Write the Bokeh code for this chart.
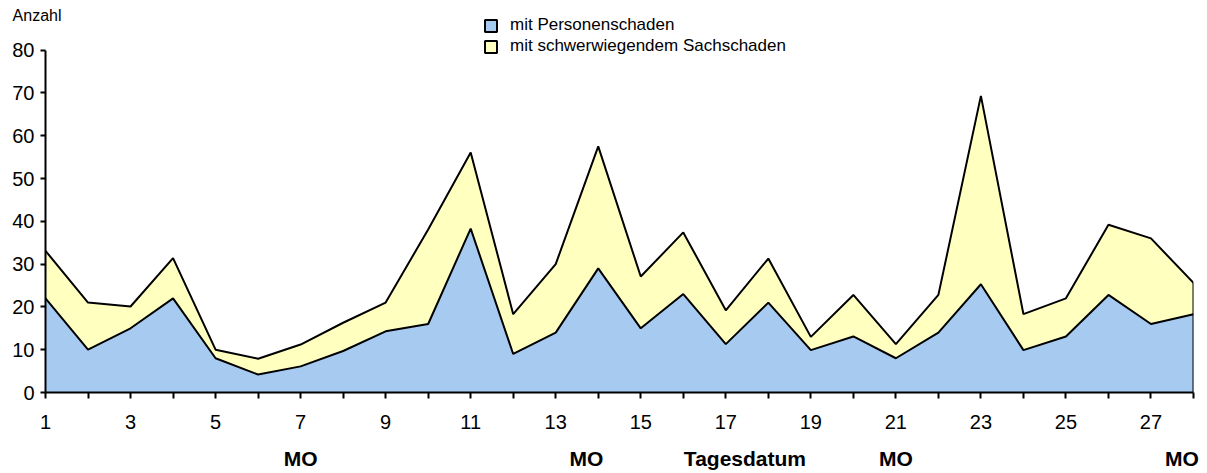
from bokeh.plotting import figure
from bokeh.models import (ColumnDataSource, Range1d, FixedTicker, Legend, LegendItem, LinearAxis)
from bokeh.transform import stack
from bokeh.embed import file_html
from bokeh.resources import INLINE

# ---- data ----
days = [1, 2, 3, 4, 5, 6, 7, 8, 9, 10, 11, 12, 13, 14,
        15, 16, 17, 18, 19, 20, 21, 22, 23, 24, 25, 26, 27, 28]
personen = [22, 10, 15, 22, 8, 4.2, 6.1, 9.7, 14.3, 16, 38.3, 9, 14, 29,
            15, 23, 11.3, 21, 9.9, 13.1, 8, 14, 25.3, 9.9, 13.1, 22.8, 16, 18.3]
sach = [11.1, 11, 5.1, 9.4, 2, 3.7, 5.1, 6.6, 6.7, 22.1, 17.8, 9.3, 16, 28.5,
        12.1, 14.4, 7.9, 10.3, 3.1, 9.7, 3.3, 8.8, 44, 8.4, 8.9, 16.4, 20, 7.3]
tick_labels = ["1", "", "3", "", "5", "", "7", "", "9", "", "11", "", "13", "",
               "15", "", "17", "", "19", "", "21", "", "23", "", "25", "", "27", ""]
y_ticks = [0, 10, 20, 30, 40, 50, 60, 70, 80]
y_unit_label = "Anzahl"
# second row under the day axis: Mondays and the axis title (positions in days)
row2_pos = [7, 13.72, 17.45, 21, 27.73]
row2_text = ["MO", "MO", "Tagesdatum", "MO", "MO"]
series_names = ["mit Personenschaden", "mit schwerwiegendem Sachschaden"]
colors = ["#A6CAF0", "#FFFFC0"]

# ---- geometry ----
FRAME_W, FRAME_H = 1148, 392          # frame reaches the top of the canvas
PX_PER_UNIT = 342.4 / 80              # 0..80 spans 342 px
Y_TOP = FRAME_H / PX_PER_UNIT

src = ColumnDataSource(dict(day=days, personen=personen, sach=sach))

p = figure(output_backend="svg", toolbar_location=None,
           frame_width=FRAME_W, frame_height=FRAME_H,
           min_border_left=45, min_border_right=12, min_border_top=0, min_border_bottom=81,
           x_range=Range1d(days[0], days[-1]), y_range=Range1d(0, Y_TOP),
           background_fill_color="white", border_fill_color="white")
p.outline_line_color = None
p.grid.visible = False

p.varea_stack(["personen", "sach"], x="day", source=src, fill_color=colors)
p.line(x="day", y="personen", source=src, line_color="black", line_width=2)
p.line(x="day", y=stack("personen", "sach"), source=src, line_color="black", line_width=2)
p.segment(x0=[days[-1]], y0=[0], x1=[days[-1]], y1=[personen[-1] + sach[-1]],
          line_color="black", line_width=2)

font = "Liberation Sans"
ax = p.xaxis[0]
ax.ticker = FixedTicker(ticks=days)
ax.major_label_overrides = {d: t for d, t in zip(days, tick_labels)}
ax.major_tick_out = 6
ax.major_tick_in = 0
ax.minor_tick_out = 0
ax.minor_tick_in = 0
ax.axis_line_width = 2
ax.major_tick_line_width = 2
ax.major_label_text_font = font
ax.major_label_text_font_size = "20px"
ax.major_label_text_color = "black"
ax.major_label_standoff = 16

ay = p.yaxis[0]
ay.ticker = FixedTicker(ticks=y_ticks)
ay.bounds = (y_ticks[0], y_ticks[-1])
ay.major_tick_out = 5
ay.major_tick_in = 0
ay.minor_tick_out = 0
ay.minor_tick_in = 0
ay.axis_line_width = 2
ay.major_tick_line_width = 2
ay.major_label_text_font = font
ay.major_label_text_font_size = "20px"
ay.major_label_text_color = "black"
ay.major_label_standoff = 6

# "Anzahl" unit label at the top of the value axis
ay2 = LinearAxis(ticker=FixedTicker(ticks=[88]), major_label_overrides={88: y_unit_label},
                 axis_line_color=None, major_tick_line_color=None, minor_tick_line_color=None,
                 major_tick_out=0, major_tick_in=0, minor_tick_out=0, minor_tick_in=0,
                 major_label_standoff=-52,
                 major_label_text_font=font, major_label_text_font_size="16px",
                 major_label_text_color="black")
p.add_layout(ay2, "left")

# second label row under the day axis (scaled range keeps integer tick keys)
p.extra_x_ranges["row2"] = Range1d(days[0] * 100, days[-1] * 100)
row2_ticks = [int(round(v * 100)) for v in row2_pos]
ax2 = LinearAxis(x_range_name="row2", ticker=FixedTicker(ticks=row2_ticks),
                 major_label_overrides={k: t for k, t in zip(row2_ticks, row2_text)},
                 axis_line_color=None, major_tick_line_color=None, minor_tick_line_color=None,
                 major_tick_out=0, major_tick_in=0, minor_tick_out=0, minor_tick_in=0,
                 major_label_standoff=15,
                 major_label_text_font=font, major_label_text_font_size="21px",
                 major_label_text_font_style="bold", major_label_text_color="black")
p.add_layout(ax2, "below")

# legend swatches: hidden rect renderers (outlined squares in the legend only)
r1 = p.rect(x="day", y="personen", width=1, height=1, source=src,
            fill_color=colors[0], line_color="black", line_width=2, visible=False)
r2 = p.rect(x="day", y="sach", width=1, height=1, source=src,
            fill_color=colors[1], line_color="black", line_width=2, visible=False)
legend = Legend(items=[LegendItem(label=series_names[0], renderers=[r1]),
                       LegendItem(label=series_names[1], renderers=[r2])],
                location=(438, 336), orientation="vertical",
                glyph_width=15, glyph_height=15, label_height=19,
                label_standoff=12, spacing=1, padding=0, margin=0,
                border_line_color=None, background_fill_alpha=0,
                label_text_font=font, label_text_font_size="17px",
                label_text_color="black")
p.add_layout(legend, "center")

open("out.html", "w").write(file_html(p, INLINE))
